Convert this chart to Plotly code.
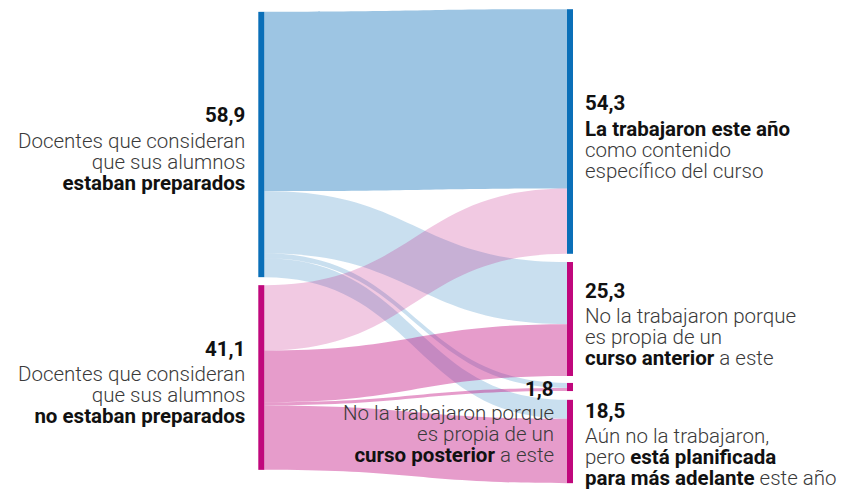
import plotly.graph_objects as go

# ---- data ----
node_names = ["Preparados", "No preparados", "Trabajaron este año",
              "Curso anterior", "Curso posterior", "Planificada"]
link_source = [0, 0, 0, 0, 1, 1, 1, 1]
link_target = [2, 3, 4, 5, 2, 3, 4, 5]
link_value = [39.8, 13.8, 1.1, 4.2, 14.5, 11.5, 0.7, 14.3]

node_colors = ["#0a6fb8", "#c0077c", "#0a6fb8", "#c0077c", "#c0077c", "#c0077c"]
link_colors = ["rgba(10,111,184,0.40)", "rgba(10,111,184,0.22)",
               "rgba(10,111,184,0.22)", "rgba(10,111,184,0.22)",
               "rgba(192,7,124,0.22)", "rgba(192,7,124,0.40)",
               "rgba(192,7,124,0.40)", "rgba(192,7,124,0.40)"]

num_left_top = "58,9"
num_left_bottom = "41,1"
num_r1 = "54,3"
num_r2 = "25,3"
num_mid = "1,8"
num_r4 = "18,5"

label_left_top = ["Docentes que consideran", "que sus alumnos",
                  "<b>estaban preparados</b>"]
label_left_bottom = ["Docentes que consideran", "que sus alumnos",
                     "<b>no estaban preparados</b>"]
label_r1 = ["<b>La trabajaron este año</b>", "como contenido",
            "específico del curso"]
label_r2 = ["No la trabajaron porque", "es propia de un",
            "<b>curso anterior</b> a este"]
label_mid = ["No la trabajaron porque", "es propia de un",
             "<b>curso posterior</b> a este"]
label_r4 = ["Aún no la trabajaron,", "pero <b>está planificada</b>",
            "<b>para más adelante</b> este año"]

W, H = 847, 489
MT, MB = 9, 6
PH = H - MT - MB

node_x = [261.3, 261.3, 570, 570, 570, 570]
node_y = [144.5, 377.5, 131.5, 319, 387, 441.5]

fig = go.Figure(go.Sankey(
    arrangement="fixed",
    node=dict(
        label=[""] * len(node_names),
        customdata=node_names,
        color=node_colors,
        thickness=6,
        pad=8,
        line=dict(width=0),
        x=[v / W for v in node_x],
        y=[(v - MT) / PH for v in node_y],
        hoverinfo="none",
    ),
    link=dict(
        source=link_source,
        target=link_target,
        value=link_value,
        color=link_colors,
        hoverinfo="none",
    ),
))

TXT = "#3a3a3a"
DARK = "#111111"
FONT = "Roboto"
FS = 20.5        # glyph size
LINE_FS = 16.2   # sets line spacing (1.3 em) ~ 21 px


def fmt_line(text):
    t = text.replace("<b>", f"<b><span style='color:{DARK}'>").replace("</b>", "</span></b>")
    return f"<span style='font-size:{FS}px'>{t}</span>"


def add_block(num, lines, x_px, num_y, body_y, anchor):
    fig.add_annotation(
        x=x_px / W, y=(H - MB - num_y) / PH, xref="paper", yref="paper",
        text=f"<b>{num}</b>", showarrow=False, xanchor=anchor, yanchor="middle",
        align=anchor, borderpad=0,
        font=dict(family=FONT, size=FS, color=DARK),
    )
    fig.add_annotation(
        x=x_px / W, y=(H - MB - body_y) / PH, xref="paper", yref="paper",
        text="<br>".join(fmt_line(l) for l in lines),
        showarrow=False, xanchor=anchor, yanchor="middle",
        align=anchor, borderpad=0,
        font=dict(family=FONT, size=LINE_FS, color=TXT, weight=300),
    )


add_block(num_left_top, label_left_top, 246, 115, 162, "right")
add_block(num_left_bottom, label_left_bottom, 246, 348.5, 395, "right")
add_block(num_r1, label_r1, 584, 103.5, 150, "left")
add_block(num_r2, label_r2, 584, 290.5, 337, "left")
add_block(num_mid, label_mid, 555, 388.5, 434, "right")
add_block(num_r4, label_r4, 584, 411, 457, "left")

fig.update_layout(
    width=W, height=H,
    margin=dict(l=0, r=0, t=MT, b=MB),
    paper_bgcolor="white",
    plot_bgcolor="white",
    showlegend=False,
)

fig.write_html("out.html",
               config={"displayModeBar": False},
               post_script="document.body.style.margin='0';")
